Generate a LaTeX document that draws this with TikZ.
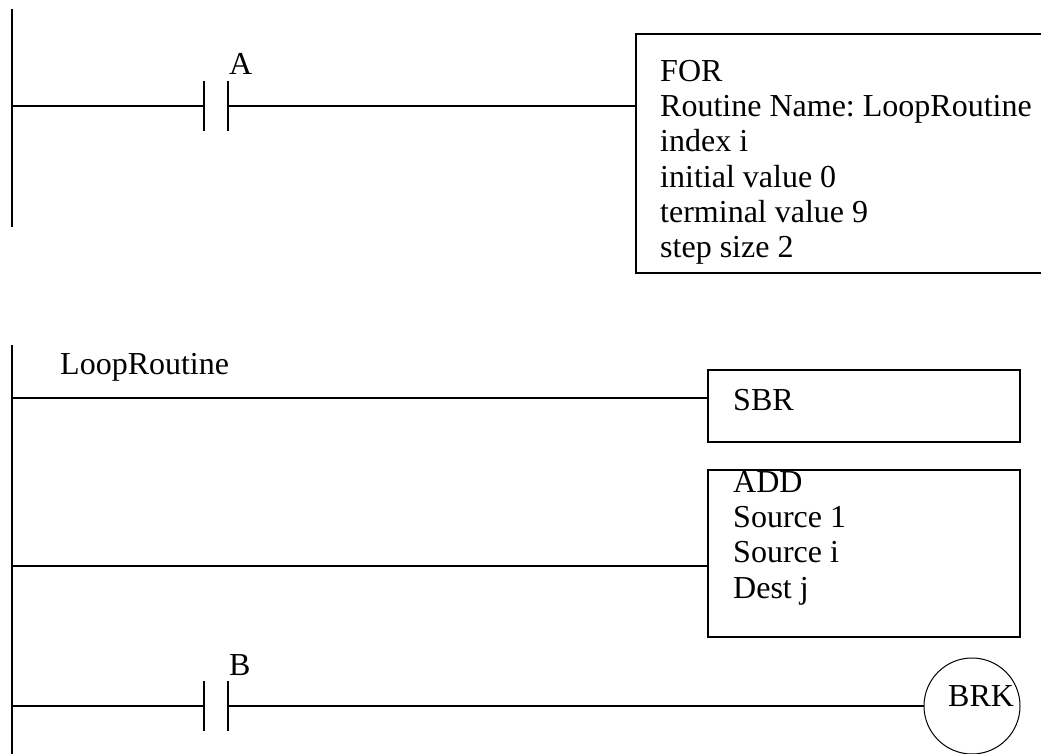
\documentclass[tikz,border=0pt]{standalone}
\usepackage{fontspec}
\setmainfont{Liberation Serif}
\usetikzlibrary{positioning}

\begin{document}
\begin{tikzpicture}[
  x=1pt, y=-1pt,
  every node/.style={font=\fontsize{32}{35.3}\selectfont\frenchspacing},
  wire/.style    = {line width=2pt, black},
  contact/.style = {inner sep=0pt, outer sep=0pt, minimum width=24pt, minimum height=50pt},
  box/.style     = {anchor=north west, inner sep=0pt, outer sep=0pt, draw=black, line width=2pt},
  txt/.style     = {align=left, inner sep=0pt, anchor=north west},
  coil/.style    = {circle, draw=black, line width=1pt, inner sep=0pt, outer sep=0pt, minimum size=96pt},
]
  \useasboundingbox (0,0) rectangle (1041,754);

  % first rung
  \coordinate (railAtop) at (12,9);
  \coordinate (railAbot) at (12,227);
  \coordinate (railA)    at (12,106);
  \node[contact] (ca) at (216,106) {};
  \node[inner sep=0pt, anchor=base west] (la) at (229,75) {A};
  \node[box, minimum width=405pt, minimum height=239pt, draw=none] (for) at (636,34) {};
  \node[txt, below right=26pt and 24pt of for.north west] (fortxt)
    {FOR\\Routine Name: LoopRoutine\\index i\\initial value 0\\terminal value 9\\step size 2};
  \draw[wire] (railAtop) -- (railAbot);
  \draw[wire] (railA) -- (ca.west);
  \draw[wire] (ca.north west) -- (ca.south west);
  \draw[wire] (ca.north east) -- (ca.south east);
  \draw[wire] (ca.east) -- (for.west |- ca.east);
  \draw[wire] (for.north east) -- (for.north west) -- (for.south west) -- (for.south east);

  % second group
  \coordinate (railBtop) at (12,345);
  \coordinate (railBbot) at (12,754);
  \coordinate (railS)    at (12,398);
  \coordinate (railD)    at (12,566);
  \coordinate (railB)    at (12,706);
  \node[inner sep=0pt, anchor=base west] (lr) at (60,374) {LoopRoutine};
  \node[box, minimum width=312pt, minimum height=72pt] (sbr) at (708,370) {};
  \node[txt, below right=19pt and 25pt of sbr.north west] (sbrtxt) {SBR};
  \node[box, minimum width=312pt, minimum height=167pt] (add) at (708,470) {};
  \node[txt, below right=1pt and 25pt of add.north west] (addtxt) {ADD\\Source 1\\Source i\\Dest j};
  \node[contact] (cb) at (216,706) {};
  \node[inner sep=0pt, anchor=base west] (lb) at (229,675) {B};
  \node[coil] (brk) at (972,706) {};
  \node[inner sep=0pt, anchor=base west] (brktxt) at (948,706) {BRK};
  \draw[wire] (railBtop) -- (railBbot);
  \draw[wire] (railS) -- (sbr.west |- railS);
  \draw[wire] (railD) -- (add.west |- railD);
  \draw[wire] (railB) -- (cb.west);
  \draw[wire] (cb.north west) -- (cb.south west);
  \draw[wire] (cb.north east) -- (cb.south east);
  \draw[wire] (cb.east) -- (brk.west);
\end{tikzpicture}
\end{document}
